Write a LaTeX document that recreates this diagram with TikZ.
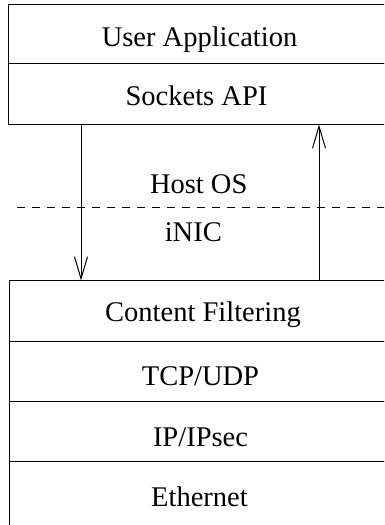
\documentclass[tikz,border=0pt]{standalone}
\usepackage{fontspec}
\setmainfont{Liberation Serif}
\usetikzlibrary{arrows.meta}
\begin{document}
\begin{tikzpicture}[x=1pt,y=-1pt,
  layer/.style={draw,line width=1pt,rectangle,inner sep=0pt,outer sep=0pt,anchor=north west},
  lbl/.style={anchor=base,inner sep=0pt,font=\fontsize{28.5}{34}\selectfont},
  arr/.style={line width=1pt,-{Straight Barb[length=22pt,width=13pt,line width=1pt]}},
  sep/.style={line width=1pt,dash pattern=on 8pt off 7pt}]
\useasboundingbox (0,0) rectangle (384,525);
\clip (0,0) rectangle (384,525);
% host side
\node[layer,minimum width=382pt,minimum height=59.5pt] (ua) at (8,4) {};
\node[layer,minimum width=382pt,minimum height=61pt] (sock) at (8,63.5) {};
% NIC side
\node[layer,minimum width=382.5pt,minimum height=60.5pt] (cf) at (9.5,280.5) {};
\node[layer,minimum width=382.5pt,minimum height=60pt] (tcp) at (9.5,341) {};
\node[layer,minimum width=382.5pt,minimum height=60.5pt] (ip) at (9.5,401) {};
\node[layer,minimum width=382.5pt,minimum height=70pt] (eth) at (9.5,461.5) {};
% labels
\node[lbl] (tua) at (199.5,46) {User Application};
\node[lbl] (tsock) at (196.5,105) {Sockets API};
\node[lbl] (tcf) at (203,321) {Content Filtering};
\node[lbl] (ttcp) at (200.5,385) {TCP/UDP};
\node[lbl] (tip) at (200.5,446) {IP/IPsec};
\node[lbl] (teth) at (199.5,506.7) {Ethernet};
\node[lbl] (thost) at (198.7,193.3) {Host OS};
\node[lbl] (tnic) at (193.3,241.7) {iNIC};
% boundary
\coordinate (dl) at (17,207.3);
\coordinate (dr) at (392,207.3);
\draw[sep] (dl) -- (dr);
% data paths
\draw[arr] ([xshift=73pt]sock.south west) -- ([xshift=71.5pt]cf.north west);
\draw[arr] ([xshift=309.5pt]cf.north west) -- ([xshift=311pt]sock.south west);
\end{tikzpicture}
\end{document}
